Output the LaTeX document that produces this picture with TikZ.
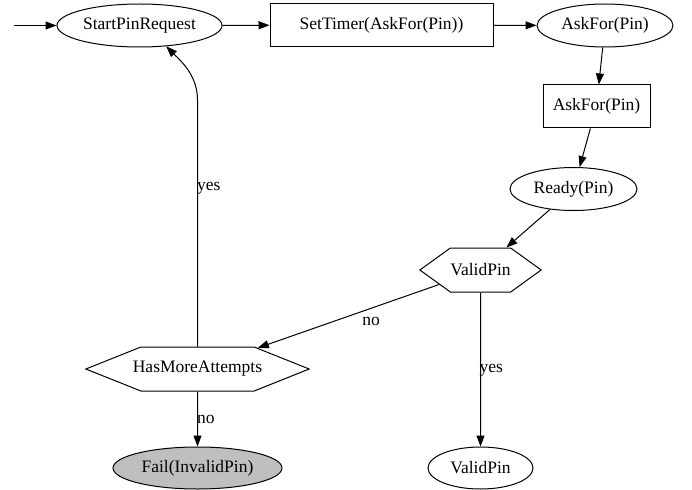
\documentclass[tikz,border=0pt]{standalone}
\usepackage{fontspec}
\setmainfont{Liberation Serif}
\newfontfamily\diagfont{Liberation Serif}
\usetikzlibrary{shapes.geometric,shapes.symbols,arrows.meta}

\tikzset{
  base/.style={draw=black, line width=1pt, font=\diagfont\fontsize{17.5}{20}\selectfont, inner sep=0pt},
  state/.style={base, ellipse},
  action/.style={base, rectangle},
  decision/.style={base, shape=signal, signal to=east and west},
  edge/.style={draw=black, line width=1pt, -{Triangle[length=11pt,width=8pt]}},
  lbl/.style={font=\diagfont\fontsize{17.5}{20}\selectfont, inner sep=0pt},
}

\begin{document}
\begin{tikzpicture}[x=1pt,y=-1pt]
\useasboundingbox (0,0) rectangle (692,489);

% top row
\coordinate (entry) at (14,25.5);
\node[state, minimum width=165pt, minimum height=43pt] (spr) at (139.5,25.5) {StartPinRequest};
\node[action, minimum width=223pt, minimum height=43pt] (timer) at (381.5,25) {SetTimer(AskFor(Pin))};
\node[state, minimum width=136pt, minimum height=43pt] (askE) at (605,25.5) {AskFor(Pin)};

% right column
\node[action, minimum width=107pt, minimum height=43pt] (askB) at (596.5,106.5) {AskFor(Pin)};
\node[state, minimum width=127pt, minimum height=43pt] (ready) at (573.5,189) {Ready(Pin)};
\node[decision, signal pointer angle=71.6, minimum width=121pt, minimum height=44pt] (vp) at (480.5,270) {ValidPin};

% bottom part
\node[decision, signal pointer angle=43.6, inner xsep=-8pt, minimum width=221pt, minimum height=44pt] (hma) at (197.5,369) {HasMoreAttempts};
\node[state, fill=black!25, minimum width=169pt, minimum height=42pt] (fail) at (197.5,468) {Fail(InvalidPin)};
\node[state, minimum width=105pt, minimum height=42pt] (vpE) at (480.5,468) {ValidPin};

% connectors
\draw[edge] (entry) -- (spr);
\draw[edge] (spr) -- (timer);
\draw[edge] (timer) -- (askE);
\draw[edge] (askE) -- (askB);
\draw[edge] (askB) -- (ready);
\draw[edge] (ready) -- (vp);
\draw[edge] (vp) -- (hma);
\draw[edge] (vp) -- (vpE);
\draw[edge] (hma) -- (fail);
\draw[edge] (hma.north) -- (197.5,100) .. controls (197.5,76) and (182,62) .. (spr.-38);

% edge labels
\node[lbl, anchor=west] (lyes1) at (197,188) {yes};
\node[lbl] (lno1) at (371,321) {no};
\node[lbl, anchor=west] (lno2) at (197,419) {no};
\node[lbl, anchor=west] (lyes2) at (479.5,370) {yes};
\end{tikzpicture}
\end{document}
